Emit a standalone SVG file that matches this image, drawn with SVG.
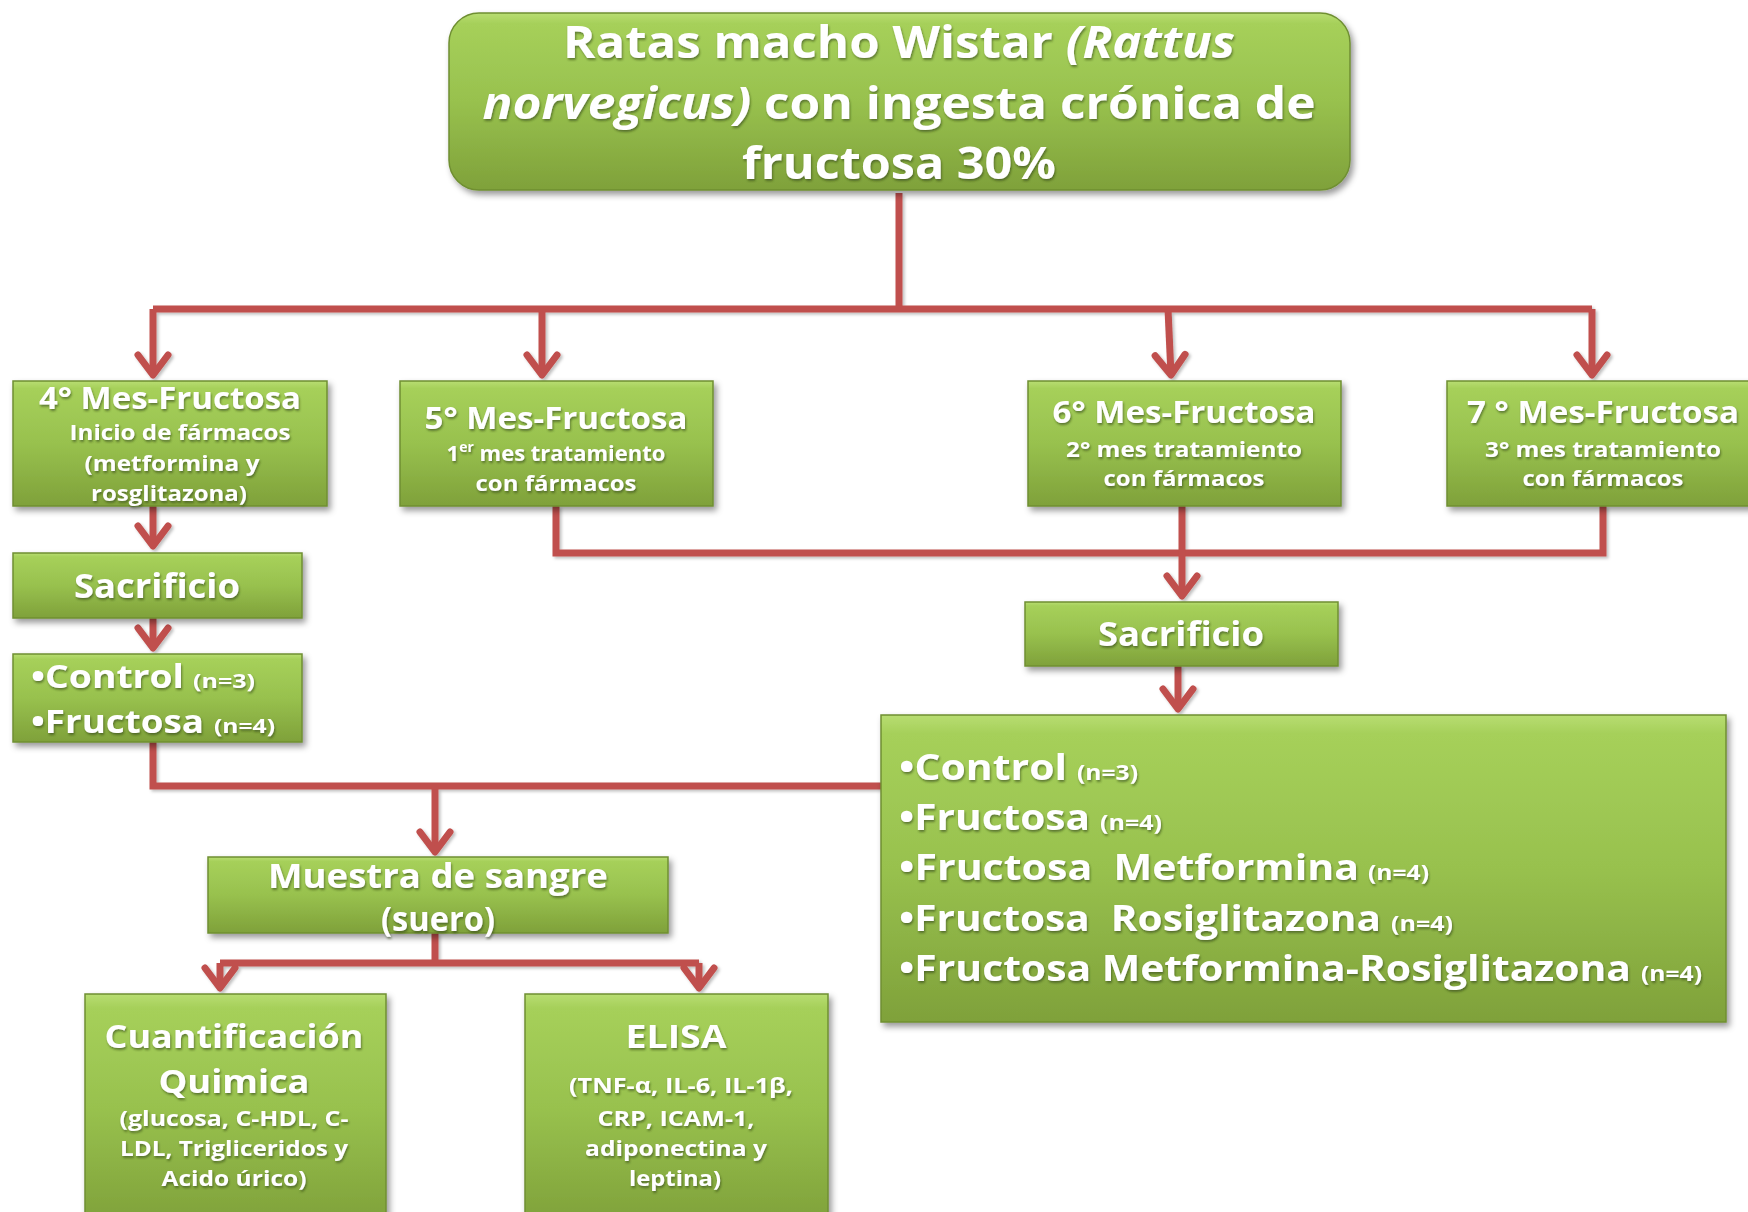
<svg xmlns="http://www.w3.org/2000/svg" width="1748" height="1212" viewBox="0 0 1748 1212">
<defs>
<linearGradient id="g" x1="0" y1="0" x2="0" y2="1">
<stop offset="0" stop-color="#B8DD72"/>
<stop offset="0.06" stop-color="#A6D05A"/>
<stop offset="0.5" stop-color="#98C14E"/>
<stop offset="1" stop-color="#7FA13A"/>
</linearGradient>
<filter id="sh" x="-10%" y="-10%" width="125%" height="130%">
<feDropShadow dx="3" dy="4" stdDeviation="3" flood-color="#000" flood-opacity="0.4"/>
</filter>
<filter id="ts" x="-5%" y="-20%" width="110%" height="150%">
<feDropShadow dx="1" dy="2" stdDeviation="1" flood-color="#2c3a10" flood-opacity="0.55"/>
</filter>
<filter id="ls" filterUnits="userSpaceOnUse" x="0" y="0" width="1748" height="1212">
<feDropShadow dx="2" dy="2" stdDeviation="1.5" flood-color="#000" flood-opacity="0.25"/>
</filter>
<marker id="ah" viewBox="-6 0 46 40" markerWidth="46" markerHeight="40" refX="19" refY="20" orient="auto" markerUnits="userSpaceOnUse">
<path d="M-1 5 L19 20 L-1 35" fill="none" stroke="#C0504D" stroke-width="7" stroke-linecap="round" stroke-linejoin="round"/>
</marker>
</defs>
<style>
.box{fill:url(#g);stroke:#6F8F32;stroke-width:1.5;filter:url(#sh)}
.t{font-family:"Open Sans","Liberation Sans",sans-serif;font-weight:700;fill:#fff;text-anchor:middle;filter:url(#ts)}
.l{text-anchor:start}
.c{fill:none;stroke:#C0504D;stroke-width:7}
.a{marker-end:url(#ah)}
</style>
<rect width="1748" height="1212" fill="#fff"/>

<g id="connectors" filter="url(#ls)">
<path class="c" d="M899 193 V309" stroke-width="12"/>
<path class="c" d="M153 309 H1592"/>
<path class="c a" d="M153 309 V375"/>
<path class="c a" d="M542 309 V375"/>
<path class="c a" d="M1168 309 L1171 375"/>
<path class="c a" d="M1592 309 V375"/>
<path class="c a" d="M153 506 V546"/>
<path class="c a" d="M153 618 V648"/>
<path class="c" d="M556 506 V553 H1603 V506"/>
<path class="c a" d="M1182 506 V596"/>
<path class="c a" d="M1178 666 V709"/>
<path class="c" d="M153 742 V786 H881"/>
<path class="c a" d="M435 786 V852"/>
<path class="c" d="M435 933 V963"/>
<path class="c a" d="M220 963 V988"/>
<path class="c a" d="M699 963 V988"/>
<path class="c" d="M220 963 H699"/>
</g>

<g id="n-top">
<rect class="box" x="449" y="13" width="901" height="177" rx="30"/>
<text class="t" font-size="44" x="899" y="58" textLength="672" lengthAdjust="spacingAndGlyphs">Ratas macho Wistar <tspan font-style="italic">(Rattus</tspan></text>
<text class="t" font-size="44" x="899" y="119" textLength="833" lengthAdjust="spacingAndGlyphs"><tspan font-style="italic">norvegicus)</tspan> con ingesta crónica de</text>
<text class="t" font-size="44" x="899" y="179" textLength="314" lengthAdjust="spacingAndGlyphs">fructosa 30%</text>
</g>

<g id="n-m4">
<rect class="box" x="13" y="381" width="314" height="125"/>
<text class="t" font-size="30" x="170" y="409" textLength="262" lengthAdjust="spacingAndGlyphs">4° Mes-Fructosa</text>
<text class="t" font-size="22" x="180" y="440" textLength="221" lengthAdjust="spacingAndGlyphs">Inicio de fármacos</text>
<text class="t" font-size="22" x="172" y="471" textLength="175" lengthAdjust="spacingAndGlyphs">(metformina y</text>
<text class="t" font-size="22" x="169" y="501" textLength="156" lengthAdjust="spacingAndGlyphs">rosglitazona)</text>
</g>

<g id="n-m5">
<rect class="box" x="400" y="381" width="313" height="125"/>
<text class="t" font-size="30" x="556" y="429" textLength="263" lengthAdjust="spacingAndGlyphs">5° Mes-Fructosa</text>
<text class="t" font-size="22" x="556" y="461">1<tspan font-size="14" dy="-9">er</tspan><tspan dy="9"> mes tratamiento</tspan></text>
<text class="t" font-size="22" x="556" y="491" textLength="161" lengthAdjust="spacingAndGlyphs">con fármacos</text>
</g>

<g id="n-m6">
<rect class="box" x="1028" y="381" width="313" height="125"/>
<text class="t" font-size="30" x="1184" y="423" textLength="263" lengthAdjust="spacingAndGlyphs">6° Mes-Fructosa</text>
<text class="t" font-size="22" x="1184" y="457" textLength="236" lengthAdjust="spacingAndGlyphs">2° mes tratamiento</text>
<text class="t" font-size="22" x="1184" y="486" textLength="161" lengthAdjust="spacingAndGlyphs">con fármacos</text>
</g>

<g id="n-m7">
<rect class="box" x="1447" y="381" width="320" height="125"/>
<text class="t" font-size="30" x="1603" y="423" textLength="272" lengthAdjust="spacingAndGlyphs">7 ° Mes-Fructosa</text>
<text class="t" font-size="22" x="1603" y="457" textLength="236" lengthAdjust="spacingAndGlyphs">3° mes tratamiento</text>
<text class="t" font-size="22" x="1603" y="486" textLength="161" lengthAdjust="spacingAndGlyphs">con fármacos</text>
</g>

<g id="n-sac1">
<rect class="box" x="13" y="553" width="289" height="65"/>
<text class="t" font-size="34" x="157" y="598" textLength="166" lengthAdjust="spacingAndGlyphs">Sacrificio</text>
</g>

<g id="n-grp1">
<rect class="box" x="13" y="654" width="289" height="88"/>
<text class="t l" font-size="32" x="31" y="688" textLength="153" lengthAdjust="spacingAndGlyphs">•Control</text>
<text class="t l" font-size="20" x="193" y="688" textLength="62" lengthAdjust="spacingAndGlyphs">(n=3)</text>
<text class="t l" font-size="32" x="31" y="733" textLength="173" lengthAdjust="spacingAndGlyphs">•Fructosa</text>
<text class="t l" font-size="20" x="214" y="733" textLength="61" lengthAdjust="spacingAndGlyphs">(n=4)</text>
</g>

<g id="n-sac2">
<rect class="box" x="1025" y="602" width="313" height="64"/>
<text class="t" font-size="34" x="1181" y="646" textLength="166" lengthAdjust="spacingAndGlyphs">Sacrificio</text>
</g>

<g id="n-grp2">
<rect class="box" x="881" y="715" width="845" height="307"/>
<text class="t l" font-size="36" x="899" y="780" textLength="168" lengthAdjust="spacingAndGlyphs">•Control</text>
<text class="t l" font-size="22" x="1077" y="780" textLength="61" lengthAdjust="spacingAndGlyphs">(n=3)</text>
<text class="t l" font-size="36" x="899" y="830" textLength="191" lengthAdjust="spacingAndGlyphs">•Fructosa</text>
<text class="t l" font-size="22" x="1100" y="830" textLength="62" lengthAdjust="spacingAndGlyphs">(n=4)</text>
<text class="t l" font-size="36" x="899" y="880" textLength="460" lengthAdjust="spacingAndGlyphs" xml:space="preserve">•Fructosa  Metformina</text>
<text class="t l" font-size="22" x="1368" y="880" textLength="61" lengthAdjust="spacingAndGlyphs">(n=4)</text>
<text class="t l" font-size="36" x="899" y="931" textLength="482" lengthAdjust="spacingAndGlyphs" xml:space="preserve">•Fructosa  Rosiglitazona</text>
<text class="t l" font-size="22" x="1391" y="931" textLength="62" lengthAdjust="spacingAndGlyphs">(n=4)</text>
<text class="t l" font-size="36" x="899" y="981" textLength="732" lengthAdjust="spacingAndGlyphs">•Fructosa Metformina-Rosiglitazona</text>
<text class="t l" font-size="22" x="1641" y="981" textLength="61" lengthAdjust="spacingAndGlyphs">(n=4)</text>
</g>

<g id="n-muestra">
<rect class="box" x="208" y="857" width="460" height="76"/>
<text class="t" font-size="34" x="438" y="888" textLength="340" lengthAdjust="spacingAndGlyphs">Muestra de sangre</text>
<text class="t" font-size="34" x="438" y="931" textLength="114" lengthAdjust="spacingAndGlyphs">(suero)</text>
</g>

<g id="n-cuant">
<rect class="box" x="85" y="994" width="301" height="230"/>
<text class="t" font-size="32" x="234" y="1048" textLength="259" lengthAdjust="spacingAndGlyphs">Cuantificación</text>
<text class="t" font-size="32" x="234" y="1093" textLength="151" lengthAdjust="spacingAndGlyphs">Quimica</text>
<text class="t" font-size="22" x="234" y="1126" textLength="229" lengthAdjust="spacingAndGlyphs">(glucosa, C-HDL, C-</text>
<text class="t" font-size="22" x="234" y="1156" textLength="228" lengthAdjust="spacingAndGlyphs">LDL, Trigliceridos y</text>
<text class="t" font-size="22" x="234" y="1186" textLength="145" lengthAdjust="spacingAndGlyphs">Acido úrico)</text>
</g>

<g id="n-elisa">
<rect class="box" x="525" y="994" width="303" height="230"/>
<text class="t" font-size="32" x="676" y="1048" textLength="101" lengthAdjust="spacingAndGlyphs">ELISA</text>
<text class="t" font-size="22" x="681" y="1093" textLength="224" lengthAdjust="spacingAndGlyphs">(TNF-α, IL-6, IL-1β,</text>
<text class="t" font-size="22" x="676" y="1126" textLength="157" lengthAdjust="spacingAndGlyphs">CRP, ICAM-1,</text>
<text class="t" font-size="22" x="676" y="1156" textLength="182" lengthAdjust="spacingAndGlyphs">adiponectina y</text>
<text class="t" font-size="22" x="675" y="1186" textLength="92" lengthAdjust="spacingAndGlyphs">leptina)</text>
</g>
</svg>
